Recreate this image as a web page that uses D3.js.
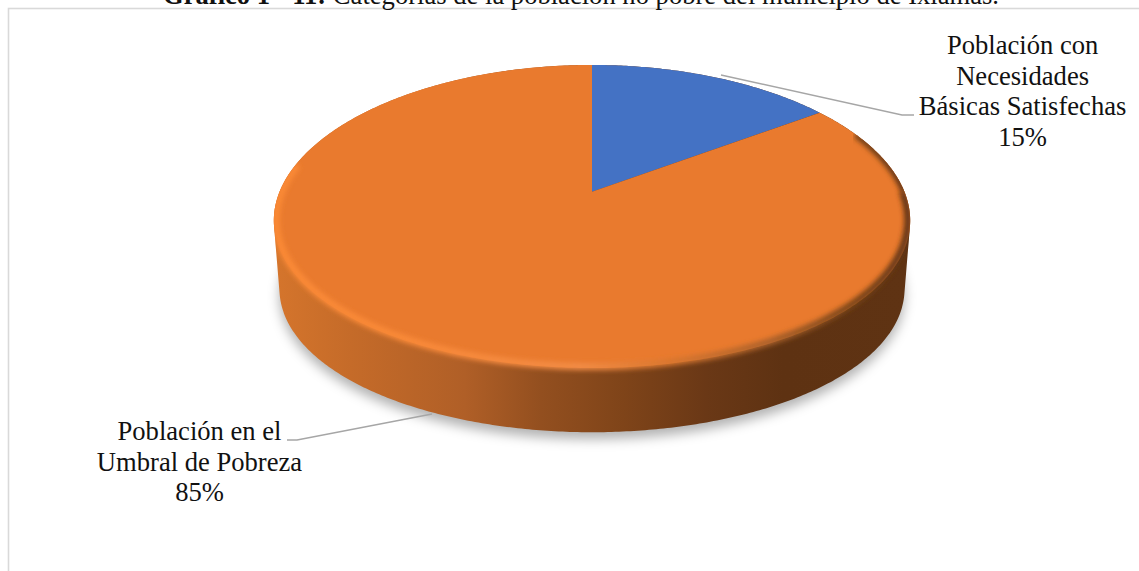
<!DOCTYPE html>
<html lang="es">
<head>
<meta charset="utf-8">
<title>Categorías de la población no pobre</title>
<script src="https://cdn.jsdelivr.net/npm/d3@7/dist/d3.min.js"></script>
<style>
  html, body { margin: 0; padding: 0; background: #fff; overflow: hidden; }
  svg { display: block; }
  text { font-family: "Liberation Serif", serif; fill: #111; }
</style>
</head>
<body>
<svg id="chart" width="1139" height="571"></svg>
<script>
// Chart data
const categories = ["Población con Necesidades Básicas Satisfechas", "Población en el Umbral de Pobreza"];
const shares = [15, 85];
const sliceColors = ["#4472c4", "#e97a2e"];
const labelLines = [
  ["Población con", "Necesidades", "Básicas Satisfechas", "15%"],
  ["Población en el", "Umbral de Pobreza", "85%"]
];
const titleBold = "Gráfico 1 - 11:";
const titleRest = " Categorías de la población no pobre del municipio de Ixiamas.";

const svg = d3.select("#chart");
const defs = svg.append("defs");

// Tilted-disc projection: the far edge recedes, so the pie centre sits above the ellipse centre.
const tilt = 0.188;
const topFace = { cx: 592, cy: 188, a: 312.5, b: 146.2, sag: 4, my: 216.5, ry: 151.5 };
const baseFace = { cx: 592, cy: 258, a: 307, b: 141.5, sag: 3, my: 284, ry: 147 };
function project(face, angle, r = 1) {
  const u = r * Math.sin(angle), v = -r * Math.cos(angle);
  const w = 1 - tilt * v;
  const y = face.cy + face.b * v / w;
  const d = (y - face.my) / face.ry;
  return [face.cx + face.a * u / w, y + face.sag * Math.max(0, 1 - d * d)];
}
const ring = (face, a0, a1, r = 1, step = 0.01) =>
  d3.range(a0, a1, step).concat([a1]).map(t => project(face, t, r));

const line = d3.line().curve(d3.curveLinear);
const tau = Math.PI * 2;
const arcs = d3.pie().sort(null).value(d => d)(shares);

// Gradients and filters
function hGradient(id, stops) {
  const g = defs.append("linearGradient").attr("id", id)
    .attr("gradientUnits", "userSpaceOnUse")
    .attr("x1", 274).attr("x2", 910).attr("y1", 0).attr("y2", 0);
  stops.forEach(([o, c]) => g.append("stop").attr("offset", o).attr("stop-color", c));
}
hGradient("sideShade", [
  [0, "#d5752c"], [0.12, "#c56b29"], [0.3, "#b05f27"], [0.42, "#934f1f"],
  [0.55, "#7f4419"], [0.68, "#6a3816"], [0.8, "#5e3212"], [1, "#5f3313"]
]);
hGradient("rimShade", [
  [0, "#fb8a36"], [0.25, "#f98a3a"], [0.48, "#f28c46"], [0.62, "#d9772f"],
  [0.78, "#a9602a"], [0.9, "#7a4519"], [1, "#5f3313"]
]);
defs.append("filter").attr("id", "softShadow")
  .attr("x", "-10%").attr("y", "-10%").attr("width", "120%").attr("height", "120%")
  .append("feGaussianBlur").attr("stdDeviation", 6);
defs.append("filter").attr("id", "softRim")
  .attr("x", "-5%").attr("y", "-5%").attr("width", "110%").attr("height", "110%")
  .append("feGaussianBlur").attr("stdDeviation", 2.4);

const topOutline = ring(topFace, 0, tau);
const baseOutline = ring(baseFace, 0, tau);
const hull = d3.polygonHull(topOutline.concat(baseOutline));
defs.append("clipPath").attr("id", "topClip")
  .append("path").attr("d", line(topOutline) + "Z");
defs.append("clipPath").attr("id", "hullClip")
  .append("path").attr("d", line(hull) + "Z");

// Chart frame, running off the right and bottom of the page
svg.append("rect").attr("x", 8.5).attr("y", 8.5).attr("width", 1160).attr("height", 600)
  .attr("fill", "#fff").attr("stroke", "#d9d9d9").attr("stroke-width", 1.6);

// Title, partly cut by the top of the page
const title = svg.append("text").attr("x", 581).attr("y", 4)
  .attr("text-anchor", "middle").attr("font-size", 26.6);
title.append("tspan").attr("font-weight", "bold").text(titleBold);
title.append("tspan").text(titleRest);

// Ground shadow
svg.append("path").attr("d", line(baseOutline) + "Z")
  .attr("transform", "translate(0,7)")
  .attr("fill", "#000").attr("fill-opacity", 0.3)
  .attr("filter", "url(#softShadow)");

// Cylinder wall: hull of the top and base rims
svg.append("path").attr("d", line(hull) + "Z").attr("fill", "url(#sideShade)");

// Top face slices, from the pie layout
svg.append("g").selectAll("path").data(arcs).join("path")
  .attr("d", d => line([project(topFace, 0, 0)].concat(ring(topFace, d.startAngle, d.endAngle))) + "Z")
  .attr("fill", (d, i) => sliceColors[i]);

// Rim bevel: a thin shade on the far right, a wider soft band around the front and left
svg.append("g").attr("clip-path", "url(#topClip)")
  .append("path").attr("d", line(ring(topFace, arcs[0].endAngle + 0.2, Math.PI / 2)))
  .attr("fill", "none").attr("stroke", "url(#rimShade)").attr("stroke-width", 7)
  .attr("filter", "url(#softRim)");
svg.append("g").attr("clip-path", "url(#hullClip)")
  .append("path").attr("d", line(ring(topFace, Math.PI / 2, 1.56 * Math.PI, 0.993)))
  .attr("fill", "none").attr("stroke", "url(#rimShade)").attr("stroke-width", 7)
  .attr("filter", "url(#softRim)");

// Leader lines
const leaderLine = d3.line();
const leaders = [
  [[721, 75], [902, 115], [914, 115]],
  [[432, 414], [297, 440], [287, 440]]
];
svg.append("g").selectAll("path").data(leaders).join("path")
  .attr("d", leaderLine).attr("fill", "none")
  .attr("stroke", "#a6a6a6").attr("stroke-width", 1.4);

// Data labels
const labelAnchors = [[1022.6, 54], [199.5, 440]];
const lineStep = 30.6;
labelLines.forEach((lines, i) => {
  svg.append("g").attr("aria-label", categories[i]).selectAll("text").data(lines).join("text")
    .attr("x", labelAnchors[i][0])
    .attr("y", (d, j) => labelAnchors[i][1] + j * lineStep)
    .attr("text-anchor", "middle").attr("font-size", 26.6)
    .text(d => d);
});
</script>
</body>
</html>
